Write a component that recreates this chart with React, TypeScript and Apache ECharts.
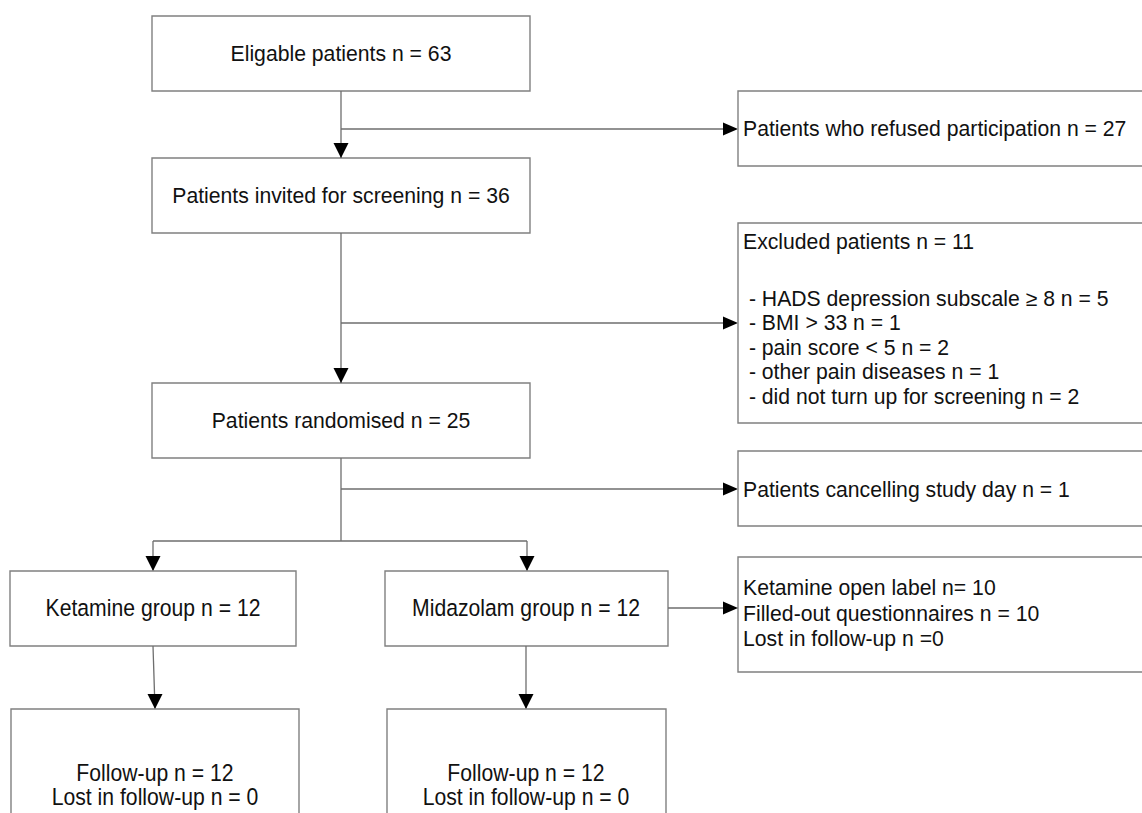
import React, { useEffect, useRef } from "react";
import * as echarts from "echarts";

// ---- Data (texts of the flow diagram) ----
const mainSteps = [
  "Eligable patients n = 63",
  "Patients invited for screening n = 36",
  "Patients randomised n = 25",
];
const refusedText = ["Patients who refused participation n = 27"];
const excludedTitle = ["Excluded patients n = 11"];
const excludedReasons = [
  " - HADS depression subscale \u2265 8 n = 5",
  " - BMI > 33 n = 1",
  " - pain score < 5 n = 2",
  " - other pain diseases n = 1",
  " - did not turn up for screening n = 2",
];
const cancelText = ["Patients cancelling study day n = 1"];
const groups = ["Ketamine group n = 12", "Midazolam group n = 12"];
const openLabelText = [
  "Ketamine open label n= 10",
  "Filled-out questionnaires n = 10",
  "Lost in follow-up n =0",
];
const followUpText = ["Follow-up n = 12", "Lost in follow-up n = 0"];

// ---- Styles ----
const FONT = '"Liberation Sans", Arial, sans-serif';
const FS = 21.2;
const BOX_STROKE = "#808080";
const LINE_STROKE = "#6e6e6e";

function box(x: number, y: number, w: number, h: number) {
  return {
    type: "rect",
    shape: { x, y, width: w, height: h },
    style: { fill: "#fff", stroke: BOX_STROKE, lineWidth: 1.4 },
    silent: true,
  };
}
function line(x1: number, y1: number, x2: number, y2: number) {
  return {
    type: "line",
    shape: { x1, y1, x2, y2 },
    style: { stroke: LINE_STROKE, lineWidth: 1.3 },
    silent: true,
  };
}
function arrowDown(x: number, y: number) {
  return {
    type: "polygon",
    shape: { points: [[x - 7.5, y - 15], [x + 7.5, y - 15], [x, y]] },
    style: { fill: "#000" },
    silent: true,
  };
}
function arrowRight(x: number, y: number) {
  return {
    type: "polygon",
    shape: { points: [[x - 15, y - 6.5], [x - 15, y + 6.5], [x, y]] },
    style: { fill: "#000" },
    silent: true,
  };
}
function text(
  lines: string[],
  x: number,
  y: number,
  align: "left" | "center",
  lh = 24.5,
  scaleY = 1
) {
  return {
    type: "text",
    x,
    y,
    scaleY,
    style: {
      text: lines.join("\n"),
      x: 0,
      y: 0,
      fill: "#111",
      fontFamily: FONT,
      fontSize: FS,
      lineHeight: lh,
      textAlign: align,
      align,
      textVerticalAlign: "middle",
      verticalAlign: "middle",
    },
    silent: true,
  };
}

export default function App() {
  const ref = useRef<HTMLDivElement>(null);
  useEffect(() => {
    if (!ref.current) return;
    const chart = echarts.init(ref.current, null, { renderer: "svg" });
    const cx = 341;
    const els: any[] = [];
    // main column boxes
    const mainY = [16, 158, 383];
    mainY.forEach((y, i) => {
      els.push(box(152, y, 378, 75));
      els.push(text([mainSteps[i]], cx, y + 37.5, "center"));
    });
    // connectors main column
    els.push(line(cx, 91, cx, 158));
    els.push(arrowDown(cx, 158));
    els.push(line(cx, 233, cx, 383));
    els.push(arrowDown(cx, 383));
    els.push(line(cx, 458, cx, 541));
    // side branches
    els.push(line(cx, 129, 736, 129));
    els.push(arrowRight(738, 129));
    els.push(line(cx, 323, 736, 323));
    els.push(arrowRight(738, 323));
    els.push(line(cx, 489, 736, 489));
    els.push(arrowRight(738, 489));
    // side boxes
    els.push(box(738, 91, 430, 75));
    els.push(text(refusedText, 743, 128.5, "left"));
    els.push(box(738, 223, 430, 200));
    els.push(text(excludedTitle, 743, 241, "left"));
    els.push(text(excludedReasons, 743, 347, "left", 24.5));
    els.push(box(738, 451, 430, 75));
    els.push(text(cancelText, 743, 489, "left"));
    els.push(box(738, 557, 430, 115));
    els.push(text(openLabelText, 743, 613, "left", 25.5));
    // split to groups
    els.push(line(153, 541, 527, 541));
    els.push(line(153, 541, 153, 571));
    els.push(arrowDown(153, 571));
    els.push(line(527, 541, 527, 571));
    els.push(arrowDown(527, 571));
    // group boxes
    els.push(box(10, 571, 286, 75));
    els.push(text([groups[0]], 153, 608.5, "center", 24.5, 1.12));
    els.push(box(385, 571, 283, 75));
    els.push(text([groups[1]], 526, 608.5, "center", 24.5, 1.12));
    els.push(line(668, 608, 736, 608));
    els.push(arrowRight(738, 608));
    // to follow-up
    els.push(line(153, 646, 155, 709));
    els.push(arrowDown(155, 709));
    els.push(line(526, 646, 526, 709));
    els.push(arrowDown(526, 709));
    els.push(box(11, 709, 288, 140));
    els.push(text(followUpText, 155, 785, "center", 21.8, 1.12));
    els.push(box(387, 709, 279, 140));
    els.push(text(followUpText, 526, 785, "center", 21.8, 1.12));

    chart.setOption({
      animation: false,
      backgroundColor: "#fff",
      graphic: { elements: els },
    });
    return () => chart.dispose();
  }, []);
  return (
    <div
      ref={ref}
      style={{ position: "absolute", left: 0, top: 0, width: 1142, height: 813 }}
    />
  );
}
